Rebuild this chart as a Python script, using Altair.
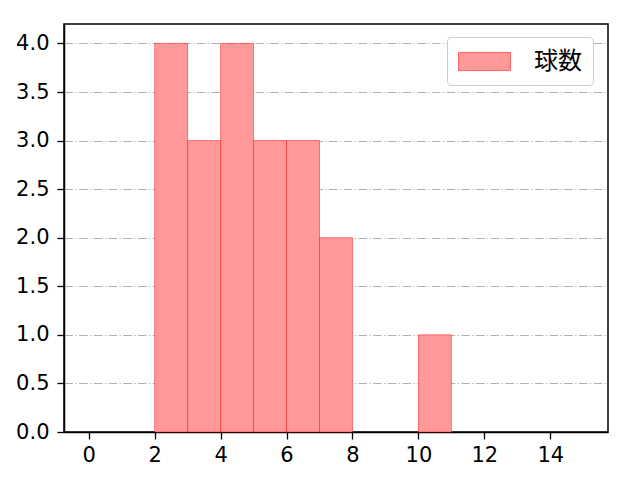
import altair as alt
import pandas as pd

# histogram data (bin width 1)
bin_left = [2, 3, 4, 5, 6, 7, 10]
counts = [4, 3, 4, 3, 3, 2, 1]
series_name = "球数"
x_ticks = [0, 2, 4, 6, 8, 10, 12, 14]
y_ticks = [0.0, 0.5, 1.0, 1.5, 2.0, 2.5, 3.0, 3.5, 4.0]

df = pd.DataFrame({
    "start": bin_left,
    "end": [b + 1 for b in bin_left],
    "count": counts,
    "series": [series_name] * len(bin_left),
})

FONT = "DejaVu Sans"
CJK = "Noto Sans CJK JP"

chart = alt.Chart(df).mark_bar(
    stroke="#ff0000", strokeOpacity=0.45, strokeWidth=1, opacity=1
).encode(
    x=alt.X("start:Q",
            scale=alt.Scale(domain=[-0.75, 15.75], nice=False, zero=False),
            axis=alt.Axis(values=x_ticks, title=None, grid=False, format="d")),
    x2="end:Q",
    y=alt.Y("count:Q",
            scale=alt.Scale(domain=[0, 4.2], nice=False),
            axis=alt.Axis(values=y_ticks, format=".1f", title=None, grid=True,
                          gridDash=[8.5, 2.5, 1.2, 2.5], gridColor="#b0b0b0",
                          gridWidth=1, labelPadding=8)),
    y2=alt.datum(0),
    color=alt.Color("series:N",
                    scale=alt.Scale(range=["#ff9999"]),
                    legend=alt.Legend(
                        title=None, orient="none", legendX=383, legendY=13,
                        symbolType="M-1,-0.7L3,-0.7L3,0.7L-1,0.7Z",
                        symbolSize=676, symbolStrokeColor="#ff6666",
                        symbolStrokeWidth=1, symbolOpacity=1,
                        labelFontSize=24, labelOffset=49, labelFont=CJK,
                        labelColor="black",
                        padding=11, strokeColor="#cccccc", cornerRadius=4,
                        fillColor="white")),
).properties(
    width=544, height=408,
    autosize=alt.AutoSizeParams(type="none"),
    padding={"left": 56, "top": 16, "right": 16, "bottom": 40},
).configure_view(
    stroke="black", strokeWidth=1.5
).configure_axis(
    labelFont=FONT, labelFontSize=21, labelColor="black",
    domainColor="black", domainWidth=1.5,
    tickColor="black", tickWidth=1.3, tickSize=7, labelPadding=5,
)

chart.save("out.html", embed_options={"renderer": "svg", "actions": False})
